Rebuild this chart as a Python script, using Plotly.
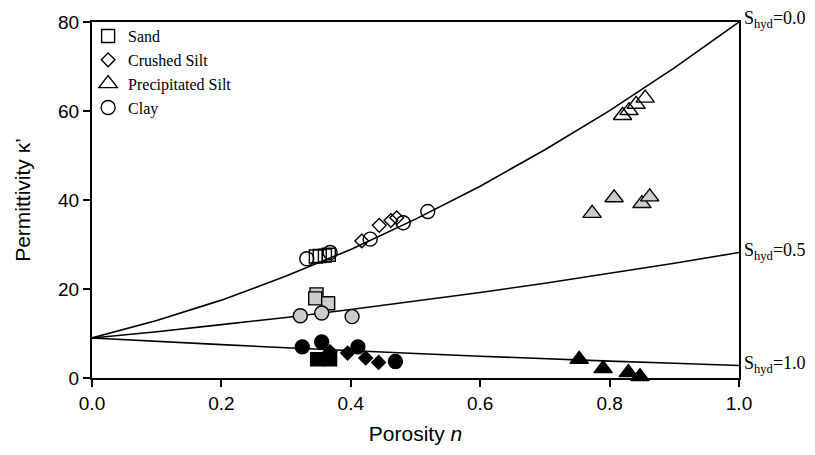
import plotly.graph_objects as go

# Model curves: permittivity vs porosity for three hydrate saturations
n_model = [0.0, 0.1, 0.2, 0.3, 0.4, 0.5, 0.6, 0.7, 0.8, 0.9, 1.0]
k_shyd_00 = [9.0, 12.9, 17.5, 22.9, 28.9, 35.7, 43.1, 51.3, 60.1, 69.7, 80.0]
k_shyd_05 = [9.0, 10.4, 12.0, 13.6, 15.4, 17.3, 19.2, 21.3, 23.5, 25.8, 28.2]
k_shyd_10 = [9.0, 8.2, 7.5, 6.8, 6.1, 5.5, 4.9, 4.3, 3.8, 3.3, 2.8]
curve_labels = ["0.0", "0.5", "1.0"]

# Measurements (porosity, permittivity) per sediment and hydrate saturation
sand_n_00 = [0.346, 0.352, 0.360, 0.366]
sand_k_00 = [27.3, 27.4, 27.5, 27.7]
sand_n_05 = [0.347, 0.345, 0.365]
sand_k_05 = [18.8, 17.9, 16.8]
sand_n_10 = [0.348, 0.368]
sand_k_10 = [4.2, 4.2]

crushed_n_00 = [0.417, 0.444, 0.462, 0.471]
crushed_k_00 = [30.8, 34.3, 35.4, 36.0]
crushed_n_10 = [0.368, 0.395, 0.423, 0.443]
crushed_k_10 = [5.9, 5.6, 4.5, 3.5]

precip_n_00 = [0.820, 0.830, 0.841, 0.855]
precip_k_00 = [59.0, 60.1, 61.5, 62.9]
precip_n_05 = [0.773, 0.807, 0.850, 0.862]
precip_k_05 = [37.0, 40.5, 39.2, 40.7]
precip_n_10 = [0.753, 0.790, 0.829, 0.847]
precip_k_10 = [4.2, 2.1, 1.2, 0.3]

clay_n_00 = [0.332, 0.368, 0.430, 0.481, 0.519]
clay_k_00 = [26.8, 28.2, 31.2, 34.9, 37.4]
clay_n_05 = [0.322, 0.355, 0.402]
clay_k_05 = [14.0, 14.6, 13.8]
clay_n_10 = [0.325, 0.355, 0.411, 0.469]
clay_k_10 = [7.0, 8.1, 7.0, 3.7]

SANS = "Liberation Sans, Arial, sans-serif"
SERIF = "Liberation Serif, Times New Roman, serif"
GRAY = "#cccccc"

fig = go.Figure()

for ks in (k_shyd_00, k_shyd_05, k_shyd_10):
    fig.add_trace(go.Scatter(
        x=n_model, y=ks, mode="lines",
        line=dict(color="black", width=1.6),
        showlegend=False, hoverinfo="skip",
    ))

sizes = {"square": 13, "diamond": 10.5, "triangle-up": 16, "circle": 14}


def add_points(xs, ys, symbol, fill, name=None):
    open_marker = fill is None
    fig.add_trace(go.Scatter(
        x=xs, y=ys, mode="markers", name=name,
        showlegend=name is not None,
        cliponaxis=False,
        marker=dict(
            symbol=symbol + ("-open" if open_marker else ""),
            size=sizes[symbol],
            color="black" if open_marker else fill,
            line=dict(color="black", width=1.4),
        ),
    ))


# Hydrate-free samples (open symbols, also used for the legend)
add_points(sand_n_00, sand_k_00, "square", None, "Sand")
add_points(crushed_n_00, crushed_k_00, "diamond", None, "Crushed Silt")
add_points(precip_n_00, precip_k_00, "triangle-up", None, "Precipitated Silt")
add_points(clay_n_00, clay_k_00, "circle", None, "Clay")

# Half-saturated samples (gray)
add_points(sand_n_05, sand_k_05, "square", GRAY)
add_points(precip_n_05, precip_k_05, "triangle-up", GRAY)
add_points(clay_n_05, clay_k_05, "circle", GRAY)

# Fully saturated samples (black)
add_points(sand_n_10, sand_k_10, "square", "black")
add_points(crushed_n_10, crushed_k_10, "diamond", "black")
add_points(precip_n_10, precip_k_10, "triangle-up", "black")
add_points(clay_n_10, clay_k_10, "circle", "black")

# Curve labels at the right end of each model line
for ks, lab, dy in zip((k_shyd_00, k_shyd_05, k_shyd_10), curve_labels, (3, 1, 1)):
    fig.add_annotation(
        x=1.0, xref="paper", y=ks[-1], yref="y",
        text="S<sub>hyd</sub>=" + lab,
        showarrow=False, xanchor="left", yanchor="middle", xshift=3, yshift=dy,
        font=dict(family=SERIF, size=18, color="black"),
    )

axis_common = dict(
    showline=True, linecolor="black", linewidth=2, mirror=True,
    ticks="outside", ticklen=7, tickwidth=2, tickcolor="black",
    showgrid=False, zeroline=False,
    tickfont=dict(family=SANS, size=19, color="black"),
)

fig.update_xaxes(
    range=[0, 1], tickvals=[0, 0.2, 0.4, 0.6, 0.8, 1.0], tickformat=".1f",
    title=dict(text="Porosity <i>n</i>", font=dict(family=SANS, size=21, color="black"), standoff=14),
    **axis_common,
)
fig.update_yaxes(
    range=[0, 80], tickvals=[0, 20, 40, 60, 80],
    title=dict(text="Permittivity κ’", font=dict(family=SANS, size=21, color="black"), standoff=22),
    **axis_common,
)

fig.update_layout(
    width=815, height=455,
    margin=dict(l=92, r=76, t=17, b=77),
    paper_bgcolor="white", plot_bgcolor="white",
    legend=dict(
        x=-0.006, y=1.008, xanchor="left", yanchor="top",
        bgcolor="rgba(0,0,0,0)",
        font=dict(family=SERIF, size=16, color="black"),
        tracegroupgap=0,
    ),
)

fig.write_html("out.html")
